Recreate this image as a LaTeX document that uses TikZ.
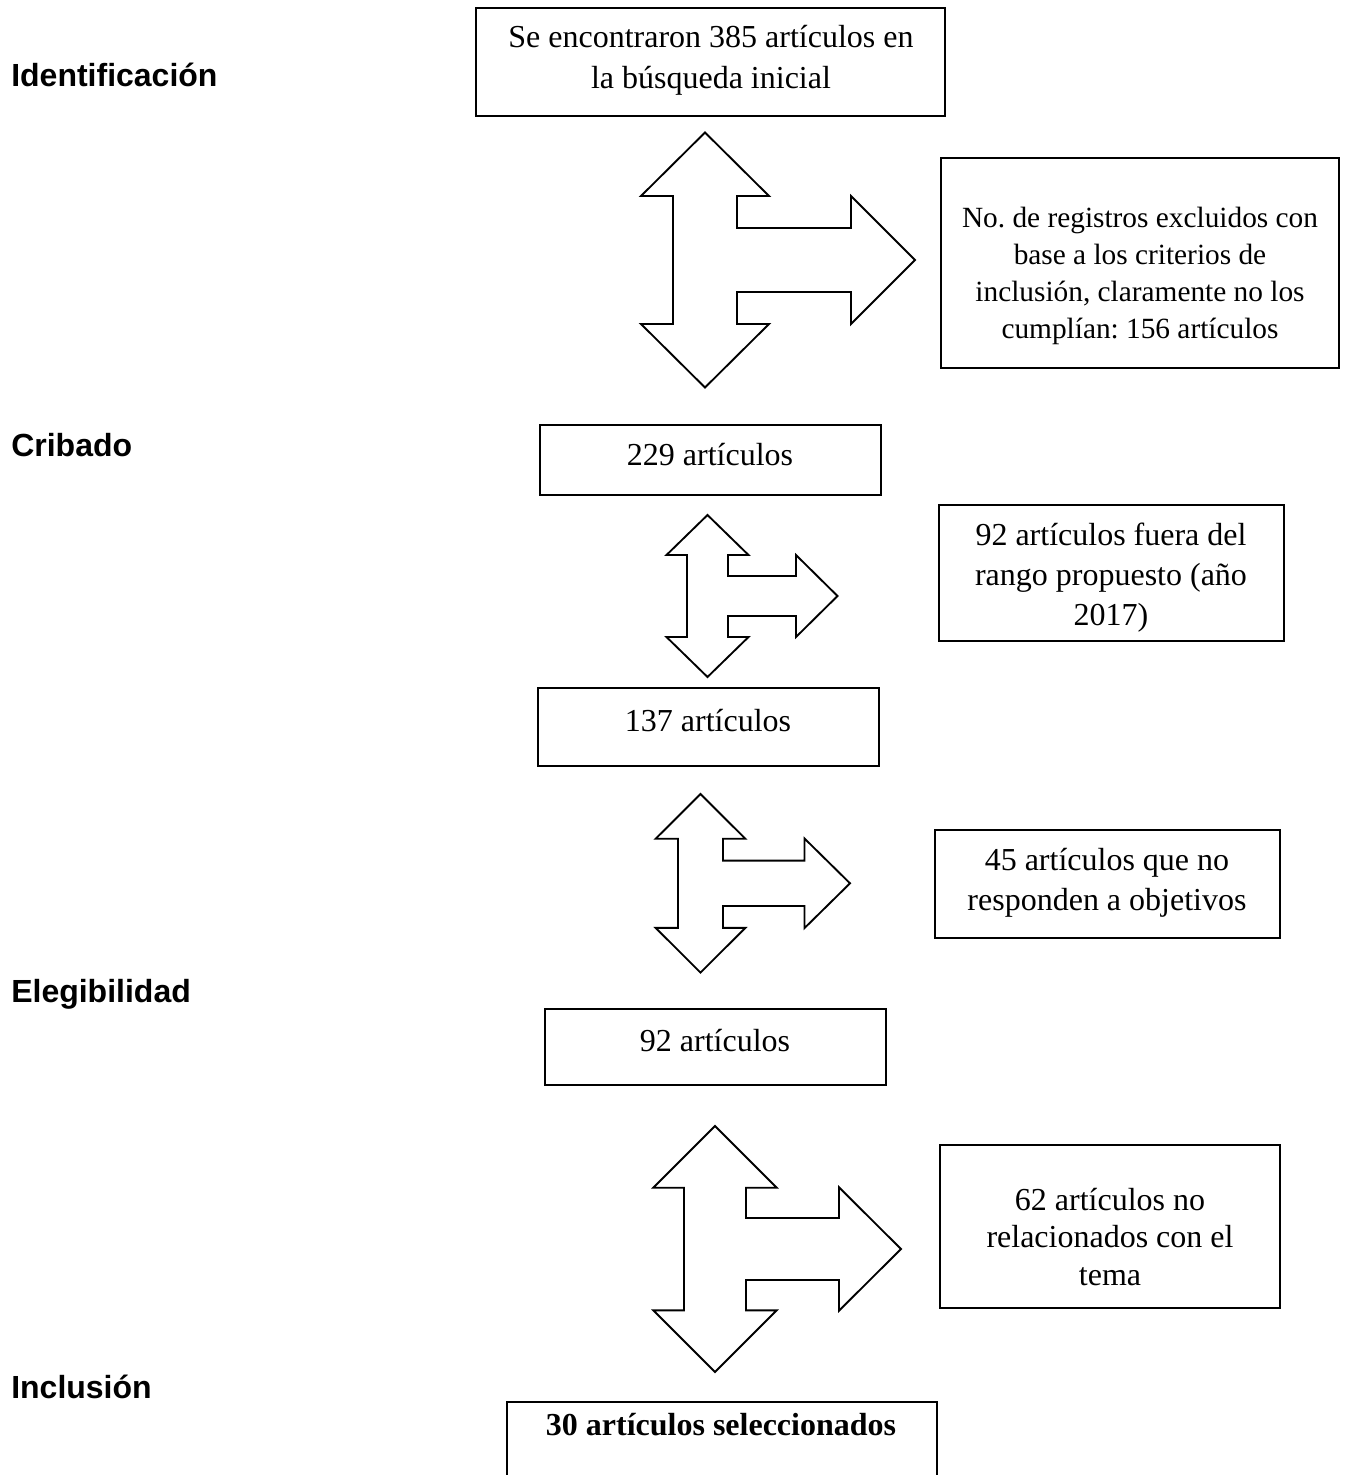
\documentclass[tikz,border=0pt]{standalone}
\usepackage{fontspec}
\setmainfont{Liberation Serif}
\newfontfamily\lblfont{Liberation Sans}
\usetikzlibrary{fit}
\frenchspacing
\tikzset{
  box/.style={draw, line width=1.4pt, inner sep=0pt},
  txt/.style={font=\fontsize{24}{28}\selectfont, align=center, inner sep=0pt, anchor=base},
  lsk/.style={font=\fontsize{24}{#1}\selectfont},
  lbl/.style={font=\lblfont\bfseries\fontsize{24}{28}\selectfont, anchor=base west, inner sep=0pt},
  blockarrow/.style={draw, line width=1.4pt, line join=miter, fill=white}
}
% cx, cy, H, head length, head half-width, shaft half-width, arm half-width, arm end offset, tip offset
\newcommand\triarrow[9]{%
  \draw[blockarrow] (#1,{#2-#3})
    -- ({#1+#5},{#2-#3+#4}) -- ({#1+#6},{#2-#3+#4})
    -- ({#1+#6},{#2-#7}) -- ({#1+#8},{#2-#7})
    -- ({#1+#8},{#2-#5}) -- ({#1+#9},#2)
    -- ({#1+#8},{#2+#5}) -- ({#1+#8},{#2+#7})
    -- ({#1+#6},{#2+#7}) -- ({#1+#6},{#2+#3-#4})
    -- ({#1+#5},{#2+#3-#4}) -- (#1,{#2+#3})
    -- ({#1-#5},{#2+#3-#4}) -- ({#1-#6},{#2+#3-#4})
    -- ({#1-#6},{#2-#3+#4}) -- ({#1-#5},{#2-#3+#4}) -- cycle;}
\begin{document}
\begin{tikzpicture}[x=0.75pt, y=-0.75pt]
\useasboundingbox (0,0) rectangle (1347,1475);

% stage labels
\node[lbl] (lid) at (11,86.7) {Identificación};
\node[lbl] (lcr) at (11,456) {Cribado};
\node[lbl] (lel) at (11,1002) {Elegibilidad};
\node[lbl] (lin) at (11,1398) {Inclusión};

% block arrows
\triarrow{705}{260}{127.5}{63.5}{64}{32}{32}{146}{210}
\triarrow{707.5}{596}{81}{40}{41}{20.5}{20}{88.5}{130}
\triarrow{700.5}{883.3}{89.3}{44.7}{44.8}{22.5}{22.7}{104}{149.5}
\triarrow{715}{1249}{123}{61.7}{61.7}{31}{31}{124}{186}

% boxes
\node[box, fit={(476,8)(945,116)}] (b1) {};
\node[box, fit={(941,158)(1339,368)}] (e1) {};
\node[box, fit={(540,425)(881,495)}] (b2) {};
\node[box, fit={(939,505)(1284,641)}] (e2) {};
\node[box, fit={(538,688)(879,766)}] (b3) {};
\node[box, fit={(935,830)(1280,938)}] (e3) {};
\node[box, fit={(545,1009)(886,1085)}] (b4) {};
\node[box, fit={(940,1145)(1280,1308)}] (e4) {};
\coordinate (b5bl) at (507,1476);
\coordinate (b5tl) at (507,1402);
\coordinate (b5tr) at (937,1402);
\coordinate (b5br) at (937,1476);
\draw[line width=1.4pt] (b5bl) -- (b5tl) -- (b5tr) -- (b5br);

% texts (anchor = baseline of the last line)
\node[txt, lsk=30.75] (t1) at (711,88.3) {Se encontraron 385 artículos en\\la búsqueda inicial};
\node[txt, font=\fontsize{22}{27.75}\selectfont] (t2) at (1140,338.5) {No. de registros excluidos con\\base a los criterios de\\inclusión, claramente no los\\cumplían: 156 artículos};
\node[txt] (t3) at (710,465) {229 artículos};
\node[txt, lsk=30] (t4) at (1111,625) {92 artículos fuera del\\rango propuesto (año\\2017)};
\node[txt] (t5) at (708,731) {137 artículos};
\node[txt, lsk=30] (t6) at (1107,910) {45 artículos que no\\responden a objetivos};
\node[txt] (t7) at (715,1051) {92 artículos};
\node[txt, lsk=28] (t8) at (1110,1285) {62 artículos no\\relacionados con el\\tema};
\node[txt, font=\bfseries\fontsize{24}{28}\selectfont] (t9) at (721,1435) {30 artículos seleccionados};
\end{tikzpicture}
\end{document}
